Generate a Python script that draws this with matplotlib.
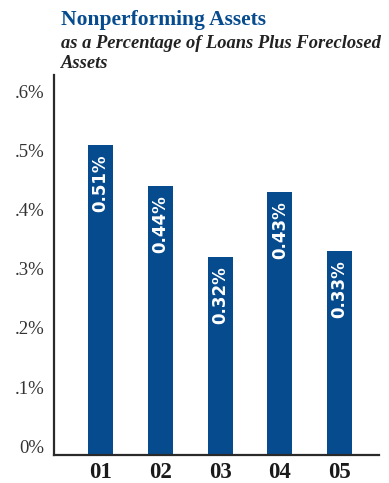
import matplotlib.pyplot as plt

years = ['01', '02', '03', '04', '05']
npa_pct = [0.51, 0.44, 0.32, 0.43, 0.33]
bar_labels = ['0.51%', '0.44%', '0.32%', '0.43%', '0.33%']
yticks = [0, 0.1, 0.2, 0.3, 0.4, 0.5, 0.6]
ytick_labels = ['0%', '.1%', '.2%', '.3%', '.4%', '.5%', '.6%']

blue = '#064b8e'
floor = -0.015   # axis line sits a little below zero

fig = plt.figure(figsize=(3.89, 4.83), dpi=100)
ax = fig.add_axes([0.139, 0.058, 0.835, 0.787])

x = list(range(len(years)))
heights = [v - floor for v in npa_pct]
ax.bar(x, heights, bottom=floor, width=0.42, color=blue, zorder=2)

for xi, v, lab in zip(x, npa_pct, bar_labels):
    ax.text(xi, v - 0.016, lab, rotation=90, ha='center', va='top',
            color='white', fontsize=12, fontweight='bold',
            family='DejaVu Sans')

ax.set_xlim(-0.78, 4.66)
ax.set_ylim(floor, 0.628)
ax.set_yticks(yticks)
ax.set_yticklabels(ytick_labels, family='Liberation Serif', fontsize=13.5,
                   color='#333333')
ax.set_xticks(x)
ax.set_xticklabels(years, family='Liberation Serif', fontsize=16.5,
                   fontweight='bold', color='#1a1a1a')
ax.tick_params(axis='both', length=0)
ax.tick_params(axis='y', pad=7)
ax.tick_params(axis='x', pad=5)

for side in ['top', 'right']:
    ax.spines[side].set_visible(False)
for side in ['left', 'bottom']:
    ax.spines[side].set_color('#2a2a2a')
    ax.spines[side].set_linewidth(1.6)

fig.text(61 / 389, 1 - 20 / 483, 'Nonperforming Assets', color=blue,
         family='Liberation Serif', fontweight='bold', fontsize=15.5,
         va='center', ha='left')
fig.text(61 / 389, 1 - 43 / 483, 'as a Percentage of Loans Plus Foreclosed',
         color='#222222', family='Liberation Serif', fontweight='bold',
         style='italic', fontsize=13.3, va='center', ha='left')
fig.text(61 / 389, 1 - 63 / 483, 'Assets',
         color='#222222', family='Liberation Serif', fontweight='bold',
         style='italic', fontsize=13.3, va='center', ha='left')

fig.savefig('out.png', dpi=100)
